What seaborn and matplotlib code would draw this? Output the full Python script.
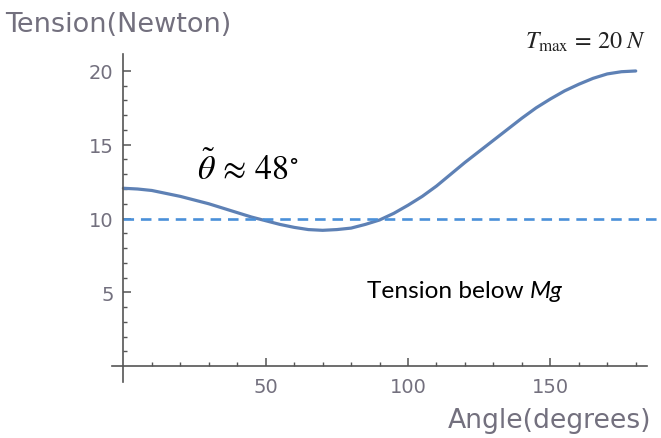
import numpy as np
import pandas as pd
import matplotlib
matplotlib.use("Agg")
import matplotlib.pyplot as plt
import seaborn as sns

## tension curve (every 5 degrees)
angle = list(range(0, 181, 5))
tension = [12.05, 12.0, 11.9, 11.7, 11.5, 11.25, 11.0, 10.7, 10.4, 10.1,
           9.85, 9.6, 9.4, 9.25, 9.2, 9.25, 9.35, 9.6, 9.9, 10.35,
           10.9, 11.5, 12.2, 13.0, 13.8, 14.55, 15.3, 16.05, 16.8, 17.5,
           18.1, 18.65, 19.1, 19.5, 19.8, 19.95, 20.0]
mg_level = 10
x_major = [50, 100, 150]
y_major = [5, 10, 15, 20]

df = pd.DataFrame({"Angle": angle, "Tension": tension})

sns.set_style("ticks")
plt.rcParams["font.family"] = ["DejaVu Sans"]
plt.rcParams["mathtext.fontset"] = "stix"

fig = plt.figure(figsize=(6.61, 4.39), dpi=100)
ax = fig.add_axes([0.1694, 0.1276, 0.979 - 0.1694, 0.8747 - 0.1276])

sns.lineplot(data=df, x="Angle", y="Tension", ax=ax, color="#5E81B5", linewidth=2.3)
ax.hlines(mg_level, 0, 189, colors="#4A90D9", linestyles=(0, (4, 2.6)), linewidth=1.9, clip_on=False)

ax.set_xlim(-4, 184)
ax.set_ylim(-1.08, 21.15)

for s in ["top", "right"]:
    ax.spines[s].set_visible(False)
ax.spines["left"].set_position(("data", 0))
ax.spines["bottom"].set_position(("data", 0))
for s in ["left", "bottom"]:
    ax.spines[s].set_color("#555555")
    ax.spines[s].set_linewidth(1.2)

ax.set_xticks(x_major)
ax.set_yticks(y_major)
ax.set_xticks(range(10, 181, 10), minor=True)
ax.set_yticks(range(1, 21), minor=True)
ax.tick_params(which="major", direction="in", length=5.5, width=1.1, color="#555555",
               labelsize=14, labelcolor="#73707e", pad=7)
ax.tick_params(which="minor", direction="in", length=3.2, width=1.0, color="#555555")
ax.tick_params(axis="x", which="major", pad=8)
ax.set_xlabel("")
ax.set_ylabel("")

fig.text(0.008, 0.927, "Tension(Newton)", fontsize=19.5, color="#73707e", ha="left", va="baseline")
fig.text(0.986, 0.024, "Angle(degrees)", fontsize=19.2, color="#73707e", ha="right", va="baseline")

ax.text(26, 12.7, r"$\tilde{\theta}\,\approx\,48^{\circ}$", fontsize=24.5, color="black", ha="left", va="baseline")
ax.text(183.5, 21.6, r"$T_{\rm max}\,=\,20\;N$", fontsize=17.3, color="#222222", ha="right", va="baseline",
        clip_on=False)
t1 = ax.text(85.5, 4.4, "Tension below", fontsize=17.6, family="Lato", color="black", ha="left", va="bottom")
ax.annotate("Mg", xy=(1, 0), xycoords=t1, xytext=(4.5, 0), textcoords="offset points",
            fontsize=17.6, family="Lato", style="italic", color="black", ha="left", va="bottom")

fig.savefig("out.png", dpi=100)
